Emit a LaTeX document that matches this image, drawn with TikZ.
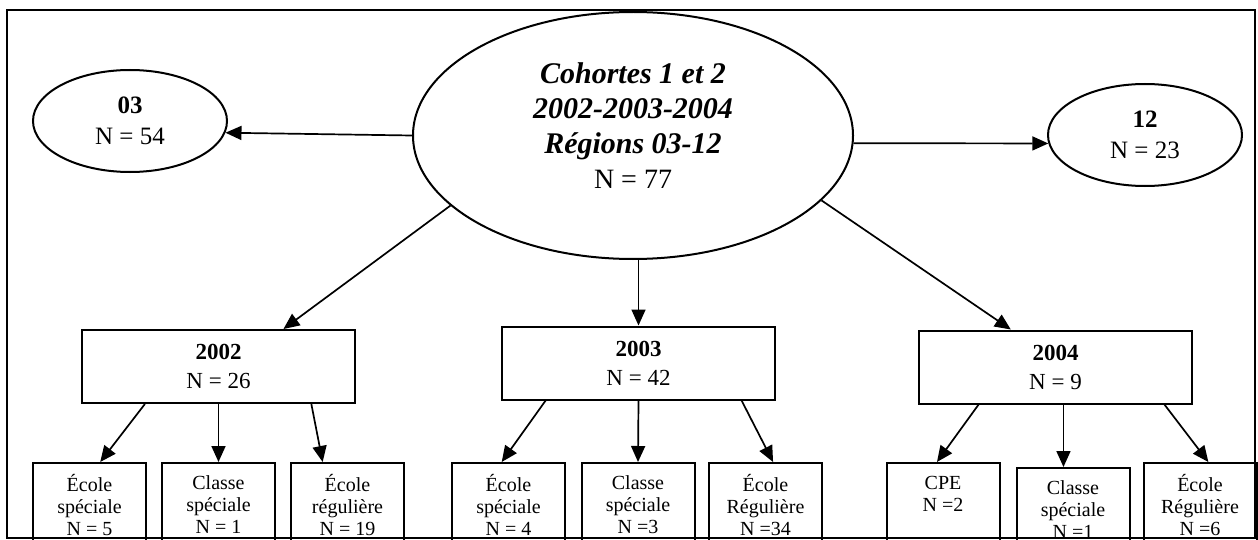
\documentclass[tikz,border=0pt]{standalone}
\usepackage{fontspec}
\setmainfont{Liberation Serif}
\usetikzlibrary{shapes.geometric,arrows.meta}

\begin{document}
\begin{tikzpicture}[x=0.5pt,y=-0.5pt,
	ovale/.style={draw,line width=1pt,ellipse,inner sep=0pt,align=center},
	annee/.style={draw,line width=1pt,rectangle,minimum width=136.5pt,minimum height=36.5pt,align=center,font=\fontsize{11.5}{14.5}\selectfont},
	ecole/.style={draw,line width=1pt,rectangle,anchor=north,minimum width=56.5pt,minimum height=42pt,inner sep=0pt,align=center,font=\fontsize{10}{11}\selectfont},
	fleche/.style={line width=0.85pt,->,>={Triangle[length=8pt,width=7pt]}}]
	\useasboundingbox (0,0) rectangle (1258,540);
	\clip (0,0) rectangle (1258,540);
	\draw[line width=1pt] (7,10) rectangle (1255,538); % le cadre
	% les ellipses du haut
	\node[ovale,minimum width=220pt,minimum height=123.5pt,font=\fontsize{15}{17.5}\selectfont,text depth=10pt] (tot) at (633,135.5) {\textbf{\textit{Cohortes 1 et 2}}\\\textbf{\textit{2002-2003-2004}}\\\textbf{\textit{Régions 03-12}}\\{\fontsize{14}{17.5}\selectfont N = 77}};
	\node[ovale,minimum width=97pt,minimum height=51pt,font=\fontsize{12.5}{15.5}\selectfont] (r03) at (130,121) {\textbf{03}\\N = 54};
	\node[ovale,minimum width=97pt,minimum height=51pt,font=\fontsize{12.5}{15.5}\selectfont] (r12) at (1145,135) {\textbf{12}\\N = 23};
	\draw[fleche] (tot.west) -- (r03.-7);
	\draw[fleche] (tot.-2) -- (r12.185);
	% les années
	\node[annee] (a2002) at (218.5,366.5) {\textbf{2002}\\N = 26};
	\node[annee] (a2003) at (638.5,363) {\textbf{2003}\\N = 42};
	\node[annee] (a2004) at (1055.5,367) {\textbf{2004}\\N = 9};
	\draw[fleche] (tot.201) -- (a2002.30);
	\draw[fleche] (tot.south -| a2003.north) -- (a2003.north);
	\draw[fleche] (tot.-19) -- (a2004.140);
	% les milieux scolaires
	\node[ecole] (c11) at (89.5,462) {École\\spéciale\\N = 5};
	\node[ecole] (c12) at (218.5,462) {Classe\\spéciale\\N = 1};
	\node[ecole] (c13) at (347.5,462) {École\\régulière\\N = 19};
	\node[ecole] (c21) at (508.5,462) {École\\spéciale\\N = 4};
	\node[ecole] (c22) at (638,462) {Classe\\spéciale\\N =3};
	\node[ecole] (c23) at (765.5,462) {École\\Régulière\\N =34};
	\node[ecole] (c31) at (943,462) {CPE\\N =2\\\mbox{}};
	\node[ecole] (c32) at (1073,467) {Classe\\spéciale\\N =1};
	\node[ecole] (c33) at (1200,462) {École\\Régulière\\N =6};
	\draw[fleche] (a2002.207) -- (c11.76);
	\draw[fleche] (a2002.south) -- (c12.north);
	\draw[fleche] (a2002.-22) -- (c13.120);
	\draw[fleche] (a2003.202) -- (c21.99);
	\draw[fleche] (a2003.south) -- (c22.north);
	\draw[fleche] (a2003.-20) -- (c23.80);
	\draw[fleche] (a2004.206) -- (c31.98);
	\draw[fleche] (a2004.-78) -- (a2004.-78 |- c32.north);
	\draw[fleche] (a2004.-19) -- (c33.79);
\end{tikzpicture}
\end{document}
